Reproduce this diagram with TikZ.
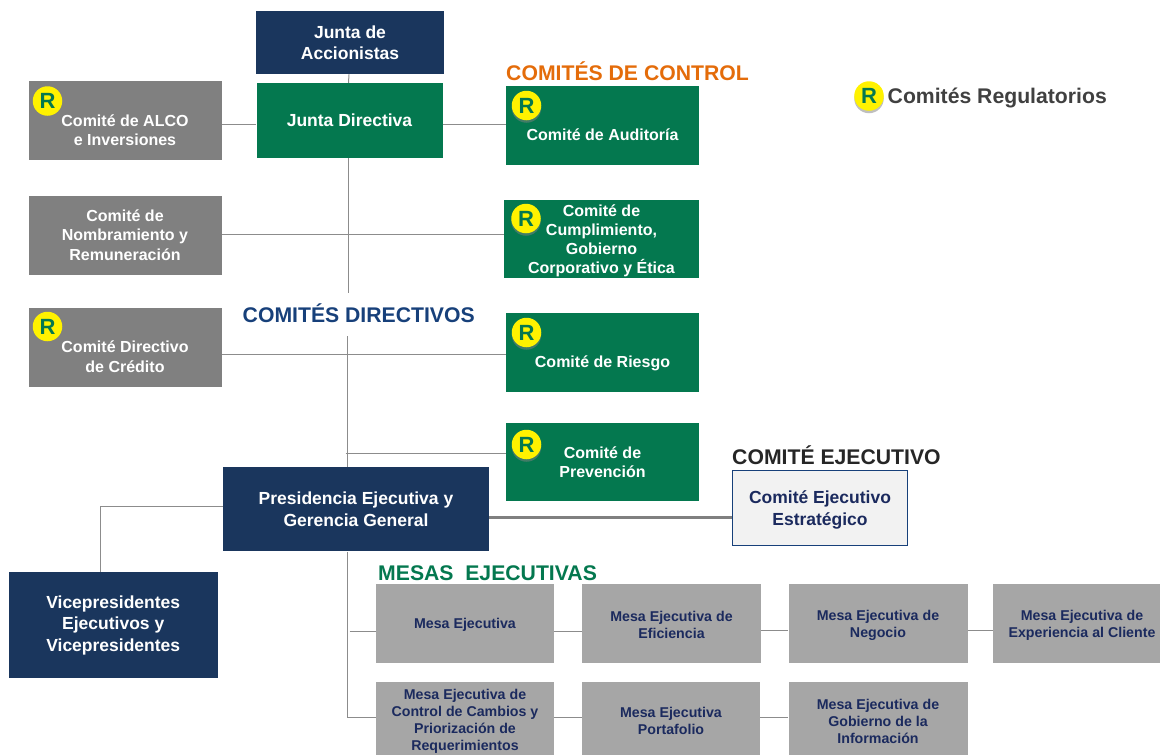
\documentclass[tikz,border=0pt]{standalone}
\usepackage{fontspec}
\setmainfont{Liberation Sans}
\usetikzlibrary{shadows}
\definecolor{verdecaja}{HTML}{04784F}
\definecolor{azulcaja}{HTML}{1A365D}
\definecolor{griscaja}{HTML}{808080}
\definecolor{grismesa}{HTML}{A6A6A6}
\definecolor{azultexto}{HTML}{1B2A5E}
\definecolor{naranja}{HTML}{E46C0A}
\definecolor{azultitulo}{HTML}{17407A}
\definecolor{grislinea}{HTML}{8C8C8C}
\tikzset{
	caja/.style={inner sep=0pt,align=center,text=white,font=\bfseries\fontsize{16}{19.5}\selectfont},
	cajaverde/.style={caja,fill=verdecaja,minimum width=193.5pt,minimum height=79pt},
	cajagris/.style={caja,fill=griscaja,minimum width=193pt,minimum height=79pt},
	cajaazul/.style={caja,fill=azulcaja,font=\bfseries\fontsize{17.5}{21.5}\selectfont},
	cajamesa/.style={caja,fill=grismesa,text=azultexto,minimum height=79pt,font=\bfseries\fontsize{14.2}{17}\selectfont},
	titulo/.style={anchor=west,inner sep=0pt,font=\bfseries\fontsize{21.2}{24}\selectfont},
	erre/.style={circle,fill=yellow,text=verdecaja,inner sep=0pt,minimum size=29.5pt,
		font=\bfseries\fontsize{22}{22}\selectfont,
		drop shadow={shadow xshift=0pt,shadow yshift=-2.5pt,opacity=.5}},
	linea/.style={grislinea,line width=1pt}
}
\begin{document}
\begin{tikzpicture}[x=1pt,y=-1pt]
	\useasboundingbox (0,0) rectangle (1160,755);
	\clip (0,0) rectangle (1160,755);

	\node[cajaazul,minimum width=188pt,minimum height=63.5pt] (accionistas) at (350,42.5) {Junta de\\Accionistas};
	\node[cajaverde,minimum width=186pt,minimum height=75pt,font=\bfseries\fontsize{17.5}{21}\selectfont] (directiva) at (349.5,120.5) {Junta Directiva};
	\node[cajagris] (alco) at (125,120.5) {\mbox{}\\[12pt]Comité de ALCO\\e Inversiones};
	\node[cajagris] (nombramiento) at (125,235) {Comité de\\Nombramiento y\\Remuneración};
	\node[cajagris] (credito) at (125,347) {\mbox{}\\[12pt]Comité Directivo\\de Crédito};
	\node[cajaverde] (auditoria) at (602.5,125.5) {\mbox{}\\[10pt]Comité de Auditoría};
	\node[cajaverde,minimum width=195pt,minimum height=78pt,font=\bfseries\fontsize{16}{19}\selectfont] (cumplimiento) at (601.5,239) {\mbox{}\\[-3pt]Comité de\\Cumplimiento,\\Gobierno\\Corporativo y Ética};
	\node[cajaverde] (riesgo) at (602.5,352) {\mbox{}\\[14pt]Comité de Riesgo};
	\node[cajaverde,minimum height=78pt] (prevencion) at (602.5,462) {Comité de\\Prevención};
	\node[cajaazul,minimum width=266.5pt,minimum height=83.5pt] (presidencia) at (356,509) {Presidencia Ejecutiva y\\Gerencia General};
	\node[cajaazul,minimum width=209.5pt,minimum height=106pt] (vicepresidentes) at (113.25,625) {Vicepresidentes\\Ejecutivos y\\Vicepresidentes};
	\node[caja,draw=azultitulo,line width=1pt,fill=black!5,text=azultexto,minimum width=175pt,minimum height=75pt,font=\bfseries\fontsize{17.5}{21.5}\selectfont] (estrategico) at (820,507.5) {\mbox{}\\[-3.5pt]Comité Ejecutivo\\Estratégico};

	\node[cajamesa,minimum width=178pt] (mesa) at (465,623) {\mbox{}\\[-3pt]Mesa Ejecutiva};
	\node[cajamesa,minimum width=179.5pt] (eficiencia) at (671.5,623) {\mbox{}\\[-3pt]Mesa Ejecutiva de\\Eficiencia};
	\node[cajamesa,minimum width=179pt] (negocio) at (878,623) {\mbox{}\\[-3pt]Mesa Ejecutiva de\\Negocio};
	\node[cajamesa,minimum width=178pt] (cliente) at (1082,623) {\mbox{}\\[-3pt]Mesa Ejecutiva de\\Experiencia al Cliente};
	\node[cajamesa,minimum width=178pt] (cambios) at (465,721) {Mesa Ejecutiva de\\Control de Cambios y\\Priorización de\\Requerimientos};
	\node[cajamesa,minimum width=178pt] (portafolio) at (671,721) {Mesa Ejecutiva\\Portafolio};
	\node[cajamesa,minimum width=179pt] (informacion) at (878,721) {Mesa Ejecutiva de\\Gobierno de la\\Información};

	\node[titulo,text=naranja] (control) at (506,71) {COMITÉS DE CONTROL};
	\node[titulo,text=azultitulo,minimum height=40pt] (directivos) at (242.5,313) {COMITÉS DIRECTIVOS};
	\node[titulo,text=black!85] (ejecutivo) at (732,455) {COMITÉ EJECUTIVO};
	\node[titulo,text=verdecaja] (mesas) at (378,573) {MESAS\ \ EJECUTIVAS};

	\node[erre] (erreA) at (47.5,101) {R};
	\node[erre] (erreB) at (47.5,326.5) {R};
	\node[erre] (erreC) at (526.5,105.5) {R};
	\node[erre] (erreD) at (526,218.5) {R};
	\node[erre] (erreE) at (526.5,332.5) {R};
	\node[erre] (erreF) at (526.5,444.5) {R};
	\node[erre] (erreG) at (869,96) {R};
	\node[anchor=west,inner sep=0pt,text=black!75,font=\bfseries\fontsize{21.2}{24}\selectfont] (regulatorios) at (887.5,98) {Comités Regulatorios};

	\coordinate (troncoA) at (347.5,336);
	\coordinate (troncoB) at (347.5,467);
	\coordinate (ramaP) at (345.5,453);
	\coordinate (codoV) at (100,572);
	\coordinate (troncoM) at (347.5,552);
	\coordinate (ramaM) at (349.5,631);

	\draw[linea] ([xshift=-1pt]accionistas.south) -- ([xshift=-1pt]directiva.north);
	\draw[linea] ([yshift=-3.5pt]alco.east) -- ([yshift=-3.5pt]directiva.west);
	\draw[linea] ([yshift=-3.5pt]directiva.east) -- ([yshift=1.5pt]auditoria.west);
	\draw[linea] ([yshift=1pt]nombramiento.east) -- ([yshift=5pt]cumplimiento.west);
	\draw[linea] ([yshift=-7pt]credito.east) -- ([yshift=-2pt]riesgo.west);
	\draw[linea] ([xshift=-1pt]directiva.south) -- ([xshift=-1pt]directiva.south |- directivos.north);
	\draw[linea] (troncoA) -- (troncoB);
	\draw[linea] (ramaP) -- ([yshift=9pt]prevencion.west);
	\draw[linea] ([yshift=2.5pt]presidencia.west) -| (codoV);
	\draw[griscaja,line width=3pt] ([yshift=-8pt]presidencia.east) -- ([yshift=-9.5pt]estrategico.west);
	\draw[linea] (troncoM) |- ([yshift=4pt]cambios.west);
	\draw[linea] (ramaM) -- ([yshift=-8pt]mesa.west);
	\draw[linea] ([yshift=-8pt]mesa.east) -- ([yshift=-8pt]eficiencia.west);
	\draw[linea] ([yshift=-7.5pt]eficiencia.east) -- ([yshift=-7.5pt]negocio.west);
	\draw[linea] ([yshift=-7.5pt]negocio.east) -- ([yshift=-7.5pt]cliente.west);
	\draw[linea] ([yshift=4pt]cambios.east) -- ([yshift=4pt]portafolio.west);
	\draw[linea] ([yshift=4pt]portafolio.east) -- ([yshift=4pt]informacion.west);
\end{tikzpicture}
\end{document}
